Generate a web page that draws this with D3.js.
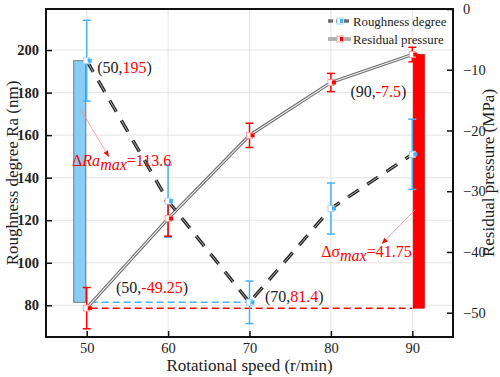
<!DOCTYPE html>
<html>
<head>
<meta charset="utf-8">
<script src="https://cdn.jsdelivr.net/npm/d3@7"></script>
<style>
  body { margin: 0; background: #fff; }
  svg { display: block; }
</style>
</head>
<body>
<svg width="500" height="377"></svg>
<script>
// data
var speeds = [50, 60, 70, 80, 90];
var roughness = [195, 129, 81.4, 125.5, 151];
var roughnessErr = [19, 17, 10, 12, 16.5];
var residual = [-49.25, -34.5, -20.8, -12.1, -7.5];
var residualErr = [3.4, 2.9, 2, 1.5, 1.2];

var xTicks = [50, 60, 70, 80, 90];
var leftTicks = [80, 100, 120, 140, 160, 180, 200];
var rightTicks = [0, -10, -20, -30, -40, -50];

var FONT = "'Liberation Serif'";

var svg = d3.select("svg"),
  margin = { top: 9, right: 47, bottom: 40, left: 46 },
  width = +svg.attr("width") - margin.left - margin.right,
  height = +svg.attr("height") - margin.top - margin.bottom;

var x = d3.scaleLinear().domain([45, 95]).range([margin.left, margin.left + width]);
var yL = d3.scaleLinear().domain([65.1, 219.3]).range([margin.top + height, margin.top]);
var yR = d3.scaleLinear().domain([-54, 0]).range([margin.top + height, margin.top]);

var blue = "#45b4f0", red = "#ff0000";

// grid
var grid = svg.append("g").attr("stroke", "#e4e4e4").attr("stroke-width", 1);
grid.selectAll(".gy").data(leftTicks).enter().append("line")
  .attr("x1", margin.left).attr("x2", margin.left + width)
  .attr("y1", function (d) { return yL(d); }).attr("y2", function (d) { return yL(d); });
grid.selectAll(".gx").data(xTicks).enter().append("line")
  .attr("y1", margin.top).attr("y2", margin.top + height)
  .attr("x1", function (d) { return x(d); }).attr("x2", function (d) { return x(d); });

// range bars
var rMax = d3.max(roughness), rMin = d3.min(roughness);
svg.append("rect")
  .attr("x", x(50) - 13).attr("width", 12)
  .attr("y", yL(rMax)).attr("height", yL(rMin) - yL(rMax))
  .attr("fill", "#87cdf5").attr("stroke", "#7a7a7a").attr("stroke-width", 1);
var sMax = d3.max(residual), sMin = d3.min(residual);
svg.append("rect")
  .attr("x", x(90) + 1).attr("width", 11)
  .attr("y", yR(sMax)).attr("height", yR(sMin) - yR(sMax))
  .attr("fill", red).attr("stroke", "#cc0000").attr("stroke-width", 0.8);

// dashed reference lines
svg.append("line")
  .attr("x1", x(50) + 4).attr("x2", x(70) - 2)
  .attr("y1", yL(rMin)).attr("y2", yL(rMin))
  .attr("stroke", blue).attr("stroke-width", 1.5).attr("stroke-dasharray", "7,4");
svg.append("line")
  .attr("x1", x(50) + 4).attr("x2", x(90))
  .attr("y1", yR(sMin)).attr("y2", yR(sMin))
  .attr("stroke", red).attr("stroke-width", 1.5).attr("stroke-dasharray", "7,4");

// lines
var lineR = d3.line().x(function (d, i) { return x(speeds[i]); }).y(function (d) { return yL(d); });
var lineS = d3.line().x(function (d, i) { return x(speeds[i]); }).y(function (d) { return yR(d); });

svg.append("path").datum(residual).attr("d", lineS)
  .attr("fill", "none").attr("stroke", "#6e6e6e").attr("stroke-width", 3.2);
svg.append("path").datum(residual).attr("d", lineS)
  .attr("fill", "none").attr("stroke", "#f2f2f2").attr("stroke-width", 1.1);

svg.append("path").datum(roughness).attr("d", lineR)
  .attr("fill", "none").attr("stroke", "#2a2a2a").attr("stroke-width", 3.4)
  .attr("stroke-dasharray", "13,10");
svg.append("path").datum(roughness).attr("d", lineR)
  .attr("fill", "none").attr("stroke", "#a8a8a8").attr("stroke-width", 1)
  .attr("stroke-dasharray", "13,10");

// error bars
function errorBars(vals, errs, y, color) {
  var g = svg.append("g").attr("stroke", color).attr("stroke-width", 1.5);
  vals.forEach(function (v, i) {
    var cx = x(speeds[i]);
    g.append("line").attr("x1", cx).attr("x2", cx).attr("y1", y(v - errs[i])).attr("y2", y(v + errs[i]));
    g.append("line").attr("x1", cx - 4).attr("x2", cx + 4).attr("y1", y(v - errs[i])).attr("y2", y(v - errs[i]));
    g.append("line").attr("x1", cx - 4).attr("x2", cx + 4).attr("y1", y(v + errs[i])).attr("y2", y(v + errs[i]));
  });
}
errorBars(roughness, roughnessErr, yL, blue);
errorBars(residual, residualErr, yR, red);

// markers
function markers(vals, y, light, dark) {
  var g = svg.append("g");
  vals.forEach(function (v, i) {
    var cx = x(speeds[i]), cy = y(v);
    g.append("rect").attr("x", cx - 3).attr("y", cy - 3).attr("width", 6).attr("height", 6)
      .attr("fill", "#fff").attr("stroke", light).attr("stroke-width", 1);
    g.append("rect").attr("x", cx + 1).attr("y", cy - 2).attr("width", 4).attr("height", 4)
      .attr("fill", dark);
  });
}
markers(roughness, yL, "#9fd6f6", blue);
markers(residual, yR, "#ff9a9a", red);

// annotations
function pointLabel(px, py, a, b) {
  var t = svg.append("text").attr("x", px).attr("y", py).attr("font-size", 16)
    .style("font-family", FONT);
  t.append("tspan").attr("fill", "#222").text("(" + a + ",");
  t.append("tspan").attr("fill", red).text(b);
  t.append("tspan").attr("fill", "#222").text(")");
}
pointLabel(x(51.3), yL(189), 50, 195);
pointLabel(x(53.6), yR(-46.7), 50, -49.25);
pointLabel(x(71.9), yL(81.6), 70, 81.4);
pointLabel(x(82.4), yR(-14.5), 90, -7.5);

svg.append("defs").append("marker").attr("id", "arr")
  .attr("viewBox", "0 0 10 10").attr("refX", 9).attr("refY", 5)
  .attr("markerWidth", 8).attr("markerHeight", 8).attr("orient", "auto-start-reverse")
  .append("path").attr("d", "M0,1 L10,5 L0,9 Z").attr("fill", "#ee1111");

svg.append("line")
  .attr("x1", x(50) - 6).attr("y1", yL(172))
  .attr("x2", x(52.7)).attr("y2", yL(150))
  .attr("stroke", "#ff8a8a").attr("stroke-width", 0.8).attr("marker-end", "url(#arr)");
svg.append("line")
  .attr("x1", x(90) + 3).attr("y1", yR(-33))
  .attr("x2", x(86.3)).attr("y2", yR(-38.6))
  .attr("stroke", "#ff8a8a").attr("stroke-width", 0.8).attr("marker-end", "url(#arr)");

var t1 = svg.append("text").attr("x", x(48.2)).attr("y", yL(145.5)).attr("font-size", 16)
  .style("font-family", FONT).attr("fill", red);
t1.append("tspan").text("\u0394");
t1.append("tspan").attr("font-style", "italic").text("Ra");
t1.append("tspan").attr("font-style", "italic").attr("dy", 4).text("max");
t1.append("tspan").attr("dy", -4).text("=113.6");

var t2 = svg.append("text").attr("x", x(78.8)).attr("y", yR(-40.8)).attr("font-size", 16)
  .style("font-family", FONT).attr("fill", red);
t2.append("tspan").text("\u0394\u03c3");
t2.append("tspan").attr("font-style", "italic").attr("dy", 4).text("max");
t2.append("tspan").attr("dy", -4).text("=41.75");

// legend
var legend = [
  { label: "Roughness degree", dash: "5,3", outer: "#2a2a2a", inner: "#b0b0b0", light: "#9fd6f6", dark: blue },
  { label: "Residual pressure", dash: null, outer: "#6e6e6e", inner: "#f2f2f2", light: "#ff9a9a", dark: red }
];
legend.forEach(function (d, i) {
  var ly = 21 + i * 18, lx = 328;
  svg.append("line").attr("x1", lx).attr("x2", lx + 23).attr("y1", ly).attr("y2", ly)
    .attr("stroke", d.outer).attr("stroke-width", 3).attr("stroke-dasharray", d.dash);
  svg.append("line").attr("x1", lx).attr("x2", lx + 23).attr("y1", ly).attr("y2", ly)
    .attr("stroke", d.inner).attr("stroke-width", 1).attr("stroke-dasharray", d.dash);
  svg.append("rect").attr("x", lx + 9).attr("y", ly - 3).attr("width", 6).attr("height", 6)
    .attr("fill", "#fff").attr("stroke", d.light);
  svg.append("rect").attr("x", lx + 12).attr("y", ly - 2).attr("width", 3).attr("height", 4).attr("fill", d.dark);
  svg.append("text").attr("x", lx + 25).attr("y", ly + 4.5).attr("font-size", 12.8)
    .style("font-family", FONT).attr("fill", "#222").text(d.label);
});

// axes
var xMinor = d3.range(45, 96, 5);
var xAxis = d3.axisBottom(x).tickValues(xTicks).tickSize(-6).tickPadding(6).tickFormat(d3.format("d"));
var xMinorAxis = d3.axisBottom(x).tickValues(xMinor).tickSize(-3).tickFormat("");
var gx = svg.append("g").attr("transform", "translate(0," + (margin.top + height) + ")");
gx.call(xMinorAxis);
gx.call(xAxis);

var yLAxis = d3.axisLeft(yL).tickValues(leftTicks).tickSize(-6).tickPadding(7);
var yLMinor = d3.axisLeft(yL).tickValues(d3.range(70, 220, 10)).tickSize(-3).tickFormat("");
var gyl = svg.append("g").attr("transform", "translate(" + margin.left + ",0)");
gyl.call(yLMinor);
gyl.call(yLAxis);
gyl.selectAll("text").attr("font-weight", "bold");

var yRAxis = d3.axisRight(yR).tickValues(rightTicks).tickSize(-6).tickPadding(10);
var yRMinor = d3.axisRight(yR).tickValues(d3.range(-50, 1, 5)).tickSize(-3).tickFormat("");
var gyr = svg.append("g").attr("transform", "translate(" + (margin.left + width) + ",0)");
gyr.call(yRMinor);
gyr.call(yRAxis);

svg.selectAll(".domain").remove();
svg.selectAll(".tick line").attr("stroke", "#111").attr("stroke-width", 1.5);
svg.selectAll(".tick text").style("font-family", FONT).attr("font-size", 14.5).attr("fill", "#222");

// frame
svg.append("rect").attr("x", margin.left).attr("y", margin.top)
  .attr("width", width).attr("height", height)
  .attr("fill", "none").attr("stroke", "#111").attr("stroke-width", 2);

// axis titles
svg.append("text").attr("x", margin.left + width / 2).attr("y", 371)
  .attr("text-anchor", "middle").attr("font-size", 17).style("font-family", FONT).attr("fill", "#222")
  .text("Rotational speed (r/min)");
svg.append("text").attr("transform", "translate(18," + (margin.top + height / 2) + ") rotate(-90)")
  .attr("text-anchor", "middle").attr("font-size", 17).style("font-family", FONT).attr("fill", "#222")
  .text("Roughness degree Ra (nm)");
svg.append("text").attr("transform", "translate(494," + (margin.top + height / 2) + ") rotate(-90)")
  .attr("text-anchor", "middle").attr("font-size", 17).style("font-family", FONT).attr("fill", "#222")
  .text("Residual pressure (MPa)");
</script>
</body>
</html>
